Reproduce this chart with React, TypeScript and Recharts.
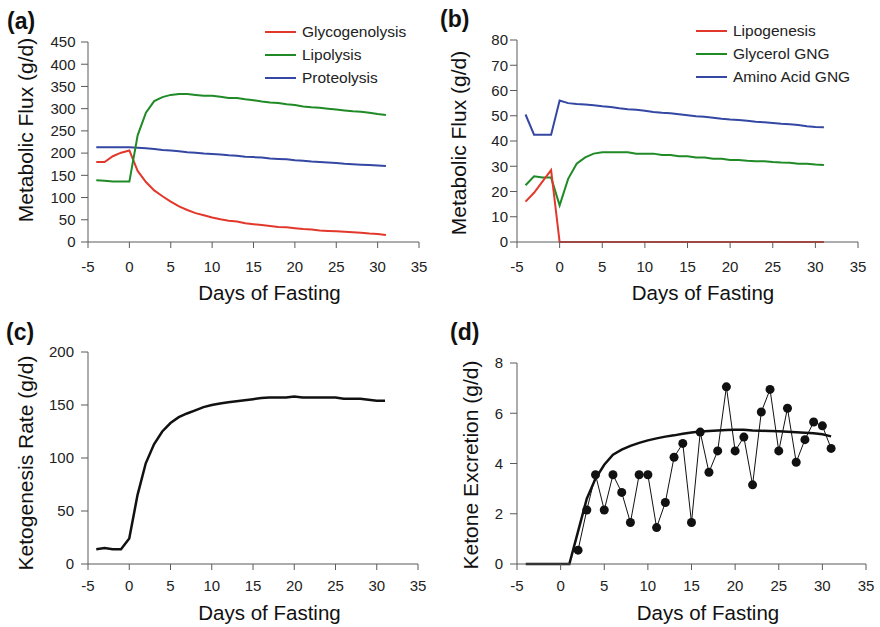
import React from "react";
import { Legend, Line, LineChart, XAxis, YAxis } from "recharts";

const FONT = '"Liberation Sans", Arial, Helvetica, sans-serif';
const RED = "#e2382c";
const GREEN = "#1f8a26";
const BLUE = "#3447a3";
const INK = "#111";

// days of fasting (-4 .. 31)
const days = [
  -4, -3, -2, -1, 0, 1, 2, 3, 4, 5, 6, 7, 8, 9, 10, 11, 12, 13, 14, 15, 16, 17,
  18, 19, 20, 21, 22, 23, 24, 25, 26, 27, 28, 29, 30, 31,
];
const xTicks = [-5, 0, 5, 10, 15, 20, 25, 30, 35];

// (a) metabolic flux, g/d
const glycogenolysis = [
  180, 180, 193, 201, 206, 160, 135, 116, 103, 91, 80, 72, 65, 60, 55, 51, 48,
  46, 42, 40, 38, 36, 34, 33, 31, 29, 28, 26, 25, 24, 23, 22, 21, 19, 18, 16,
];
const lipolysis = [
  139, 138, 136, 136, 136, 240, 291, 317, 326, 331, 333, 333, 331, 329, 329,
  327, 324, 324, 321, 319, 316, 314, 313, 310, 308, 305, 303, 302, 300, 298,
  296, 294, 293, 291, 288, 286,
];
const proteolysis = [
  213, 213, 213, 213, 213, 212, 211, 209, 207, 206, 204, 202, 201, 199, 198,
  197, 195, 194, 192, 191, 190, 188, 187, 186, 184, 183, 181, 180, 179, 178,
  176, 175, 174, 173, 172, 171,
];

// (b) metabolic flux, g/d
const lipogenesis = [
  16, 19.5, 24, 28.5, 0, 0, 0, 0, 0, 0, 0, 0, 0, 0, 0, 0, 0, 0, 0, 0, 0, 0, 0,
  0, 0, 0, 0, 0, 0, 0, 0, 0, 0, 0, 0, 0,
];
const glycerolGng = [
  22.5, 26, 25.5, 25.5, 14.5, 25, 31, 33.5, 35, 35.5, 35.5, 35.5, 35.5, 35, 35,
  35, 34.5, 34.5, 34, 34, 33.5, 33.5, 33, 33, 32.5, 32.5, 32.2, 32, 32, 31.7,
  31.5, 31.4, 31, 31, 30.7, 30.5,
];
const aminoAcidGng = [
  50.5, 42.5, 42.5, 42.5, 56, 55, 54.7, 54.5, 54.2, 53.8, 53.5, 53, 52.6, 52.4,
  52, 51.5, 51.2, 51, 50.6, 50.2, 49.8, 49.6, 49.2, 48.8, 48.5, 48.3, 48, 47.6,
  47.4, 47.1, 46.8, 46.6, 46.3, 45.8, 45.5, 45.4,
];

// (c) ketogenesis rate, g/d
const ketogenesis = [
  14, 15, 14, 14, 24, 65, 95, 113, 125, 133, 138.5, 142, 145, 148, 150, 151.5,
  152.5, 153.5, 154.5, 155.5, 156.5, 157, 157, 157, 158, 157, 157, 157, 157,
  157, 156, 156, 156, 155, 154, 154,
];

// (d) ketone excretion, g/d
const modelExcretion = [
  0, 0, 0, 0, 0, 0, 1.3, 2.6, 3.4, 3.95, 4.35, 4.55, 4.7, 4.82, 4.92, 5.0,
  5.07, 5.12, 5.18, 5.23, 5.27, 5.29, 5.31, 5.33, 5.34, 5.34, 5.31, 5.3, 5.29,
  5.28, 5.26, 5.24, 5.22, 5.2, 5.16, 5.08,
];
const observedExcretion = [
  null, null, null, null, null, null, 0.55, 2.15, 3.55, 2.15, 3.55, 2.85, 1.65,
  3.55, 3.55, 1.45, 2.45, 4.25, 4.8, 1.65, 5.25, 3.65, 4.5, 7.05, 4.5, 5.05,
  3.15, 6.05, 6.95, 4.5, 6.2, 4.05, 4.95, 5.65, 5.5, 4.6,
];

const rows = days.map((day, i) => ({
  day,
  glycogenolysis: glycogenolysis[i],
  lipolysis: lipolysis[i],
  proteolysis: proteolysis[i],
  lipogenesis: lipogenesis[i],
  glycerolGng: glycerolGng[i],
  aminoAcidGng: aminoAcidGng[i],
  ketogenesis: ketogenesis[i],
  modelExcretion: modelExcretion[i],
  observedExcretion: observedExcretion[i],
}));

const axisStroke = "#5a5a5a";
const tickStyle = { fill: "#222", fontSize: 15, fontFamily: FONT };

const LegendBox = ({ items }: { items: { name: string; color: string }[] }) => (
  <div style={{ fontFamily: FONT, fontSize: 15.5, color: "#222" }}>
    {items.map((it) => (
      <div
        key={it.name}
        style={{ display: "flex", alignItems: "center", height: 23 }}
      >
        <span
          style={{
            display: "inline-block",
            width: 31,
            height: 2,
            background: it.color,
            marginRight: 6,
          }}
        />
        <span>{it.name}</span>
      </div>
    ))}
  </div>
);

const Text = ({
  x,
  y,
  children,
  rotate,
  size = 20.5,
}: {
  x: number;
  y: number;
  children: React.ReactNode;
  rotate?: boolean;
  size?: number;
}) => (
  <div
    style={{
      position: "absolute",
      left: x,
      top: y,
      transform: `translate(-50%, -50%)${rotate ? " rotate(-90deg)" : ""}`,
      whiteSpace: "nowrap",
      fontFamily: FONT,
      fontSize: size,
      color: "#111",
      lineHeight: 1,
    }}
  >
    {children}
  </div>
);

const Tag = ({ x, y, children }: { x: number; y: number; children: string }) => (
  <div
    style={{
      position: "absolute",
      left: x,
      top: y,
      transform: "translateY(-50%)",
      fontFamily: FONT,
      fontSize: 23,
      fontWeight: 700,
      color: "#111",
      lineHeight: 1,
    }}
  >
    {children}
  </div>
);

const xAxis = (tickMargin: number) => (
  <XAxis
    dataKey="day"
    type="number"
    domain={[-5, 35]}
    ticks={xTicks}
    interval={0}
    height={30}
    stroke={axisStroke}
    tickSize={6}
    tickMargin={tickMargin}
    tick={tickStyle}
  />
);

const yAxis = (domain: number[], ticks: number[], tickMargin: number) => (
  <YAxis
    type="number"
    domain={domain}
    ticks={ticks}
    interval={0}
    width={40}
    stroke={axisStroke}
    tickSize={7}
    tickMargin={tickMargin}
    tick={tickStyle}
  />
);

export default function App() {
  return (
    <div
      style={{
        position: "absolute",
        left: 0,
        top: 0,
        width: 880,
        height: 627,
        background: "#fff",
      }}
    >
      {/* (a) */}
      <div style={{ position: "absolute", left: 0, top: 0 }}>
        <LineChart
          width={440}
          height={310}
          data={rows}
          margin={{ top: 42, right: 21, left: 48, bottom: 38 }}
        >
          {xAxis(13)}
          {yAxis([0, 450], [0, 50, 100, 150, 200, 250, 300, 350, 400, 450], 5.5)}
          <Line type="linear" dataKey="proteolysis" name="Proteolysis" stroke={BLUE} strokeWidth={2} dot={false} isAnimationActive={false} />
          <Line type="linear" dataKey="glycogenolysis" name="Glycogenolysis" stroke={RED} strokeWidth={2} dot={false} isAnimationActive={false} />
          <Line type="linear" dataKey="lipolysis" name="Lipolysis" stroke={GREEN} strokeWidth={2} dot={false} isAnimationActive={false} />
          <Legend
            layout="vertical"
            align="center"
            verticalAlign="middle"
            wrapperStyle={{ left: 265, top: 20 }}
            content={() => (
              <LegendBox
                items={[
                  { name: "Glycogenolysis", color: RED },
                  { name: "Lipolysis", color: GREEN },
                  { name: "Proteolysis", color: BLUE },
                ]}
              />
            )}
          />
        </LineChart>
      </div>

      {/* (b) */}
      <div style={{ position: "absolute", left: 440, top: 0 }}>
        <LineChart
          width={440}
          height={310}
          data={rows}
          margin={{ top: 40, right: 22, left: 37, bottom: 38 }}
        >
          {xAxis(13)}
          {yAxis([0, 80], [0, 10, 20, 30, 40, 50, 60, 70, 80], 2)}
          <Line type="linear" dataKey="aminoAcidGng" name="Amino Acid GNG" stroke={BLUE} strokeWidth={2} dot={false} isAnimationActive={false} />
          <Line type="linear" dataKey="glycerolGng" name="Glycerol GNG" stroke={GREEN} strokeWidth={2} dot={false} isAnimationActive={false} />
          <Line type="linear" dataKey="lipogenesis" name="Lipogenesis" stroke={RED} strokeWidth={2} dot={false} isAnimationActive={false} />
          <Legend
            layout="vertical"
            align="center"
            verticalAlign="middle"
            wrapperStyle={{ left: 256, top: 19 }}
            content={() => (
              <LegendBox
                items={[
                  { name: "Lipogenesis", color: RED },
                  { name: "Glycerol GNG", color: GREEN },
                  { name: "Amino Acid GNG", color: BLUE },
                ]}
              />
            )}
          />
        </LineChart>
      </div>

      {/* (c) */}
      <div style={{ position: "absolute", left: 0, top: 310 }}>
        <LineChart
          width={440}
          height={317}
          data={rows}
          margin={{ top: 42, right: 22, left: 48, bottom: 33 }}
        >
          {xAxis(10)}
          {yAxis([0, 200], [0, 50, 100, 150, 200], 7)}
          <Line type="linear" dataKey="ketogenesis" stroke={INK} strokeWidth={2.5} dot={false} isAnimationActive={false} />
        </LineChart>
      </div>

      {/* (d) */}
      <div style={{ position: "absolute", left: 440, top: 310 }}>
        <LineChart
          width={440}
          height={317}
          data={rows}
          margin={{ top: 53, right: 14, left: 37, bottom: 33 }}
        >
          {xAxis(10)}
          {yAxis([0, 8], [0, 2, 4, 6, 8], 7)}
          <Line type="linear" dataKey="modelExcretion" stroke={INK} strokeWidth={2.5} dot={false} isAnimationActive={false} />
          <Line
            type="linear"
            dataKey="observedExcretion"
            stroke={INK}
            strokeWidth={1}
            dot={{ r: 4.5, fill: INK, stroke: INK, strokeWidth: 0 }}
            isAnimationActive={false}
          />
        </LineChart>
      </div>

      <Tag x={7} y={21}>(a)</Tag>
      <Tag x={440} y={19}>(b)</Tag>
      <Tag x={6} y={332}>(c)</Tag>
      <Tag x={450} y={332}>(d)</Tag>

      <Text x={269.5} y={293}>Days of Fasting</Text>
      <Text x={703} y={293}>Days of Fasting</Text>
      <Text x={269.5} y={613}>Days of Fasting</Text>
      <Text x={708} y={613}>Days of Fasting</Text>

      <Text x={25} y={130} rotate size={21}>Metabolic Flux (g/d)</Text>
      <Text x={458} y={142.5} rotate size={21}>Metabolic Flux (g/d)</Text>
      <Text x={25} y={463} rotate size={21}>Ketogenesis Rate (g/d)</Text>
      <Text x={470} y={465} rotate size={21}>Ketone Excretion (g/d)</Text>
    </div>
  );
}
